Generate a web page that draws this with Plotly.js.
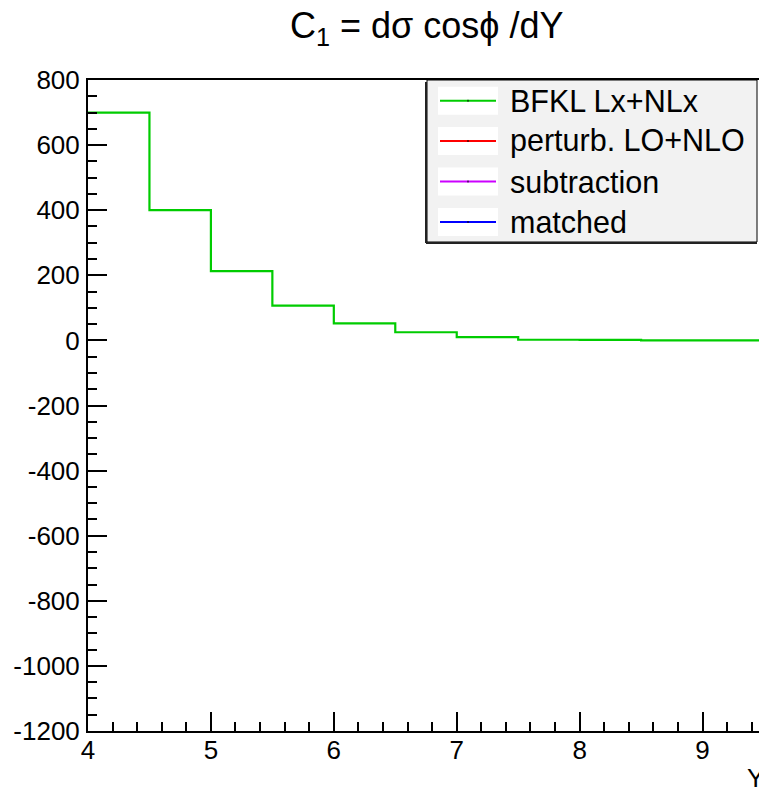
<!DOCTYPE html>
<html>
<head>
<meta charset="utf-8">
<script src="https://cdn.plot.ly/plotly-3.0.1.min.js"></script>
<style>
html,body{margin:0;padding:0;overflow:hidden;background:#fff;}
#chart{width:780px;height:789px;}
</style>
</head>
<body>
<div id="chart"></div>
<script>
// ---- data ----
const binEdges = [4, 4.5, 5, 5.5, 6, 6.5, 7, 7.5, 8, 8.5, 9, 9.5];
const bfklValues = [700, 400, 213, 107, 52.5, 25, 10, 2, 1.5, 0.3, 0.1];
const perturbValues = [];
const subtractionValues = [];
const matchedValues = [];
const seriesNames = ["BFKL Lx+NLx", "perturb. LO+NLO", "subtraction", "matched"];
const seriesColors = ["#00cc00", "#ff0000", "#cc00ff", "#0000ff"];
const xTickVals = [4, 5, 6, 7, 8, 9];
const yTickVals = [-1200, -1000, -800, -600, -400, -200, 0, 200, 400, 600, 800];

// ---- layout geometry ----
const W = 780, H = 789;
const M = {l: 88, r: 16, t: 80, b: 58};
const PW = W - M.l - M.r, PH = H - M.t - M.b;
const px = x => (x - M.l) / PW;
const py = y => (H - M.b - y) / PH;
const FONT = "Liberation Sans, Arial, Helvetica, sans-serif";

function stepTrace(vals, name, color) {
  const x = vals.length ? binEdges.slice(0, vals.length + 1) : [];
  const y = vals.length ? vals.concat([vals[vals.length - 1]]) : [];
  return {x: x, y: y, type: "scatter", mode: "lines", name: name,
          line: {color: color, width: 2.2, shape: "hv"}, showlegend: false, hoverinfo: "skip"};
}

const traces = [
  stepTrace(bfklValues, seriesNames[0], seriesColors[0]),
  stepTrace(perturbValues, seriesNames[1], seriesColors[1]),
  stepTrace(subtractionValues, seriesNames[2], seriesColors[2]),
  stepTrace(matchedValues, seriesNames[3], seriesColors[3])
];

// manual ROOT-style legend
const shapes = [];
const annotations = [];
const lx0 = 427, lx1 = 757, ly0 = 80, ly1 = 242;
shapes.push({type: "rect", xref: "paper", yref: "paper", x0: px(lx0), x1: px(lx1), y0: py(ly1), y1: py(ly0),
             fillcolor: "#f2f2f2", line: {color: "black", width: 1}, layer: "above"});
shapes.push({type: "line", xref: "paper", yref: "paper", x0: px(lx0 - 1), x1: px(lx0 - 1), y0: py(ly1 + 1), y1: py(ly0 + 2),
             line: {color: "#222", width: 2}, layer: "above"});
shapes.push({type: "line", xref: "paper", yref: "paper", x0: px(lx0 - 1), x1: px(lx1), y0: py(ly1 + 1), y1: py(ly1 + 1),
             line: {color: "#222", width: 2}, layer: "above"});
const rowY = [100.7, 141, 181.5, 222];
seriesNames.forEach((n, i) => {
  const yc = rowY[i];
  shapes.push({type: "rect", xref: "paper", yref: "paper", x0: px(438), x1: px(498), y0: py(yc + 14), y1: py(yc - 14),
               fillcolor: "white", line: {width: 0}, layer: "above"});
  shapes.push({type: "line", xref: "paper", yref: "paper", x0: px(440), x1: px(496), y0: py(yc), y1: py(yc),
               line: {color: seriesColors[i], width: 2}, layer: "above"});
  shapes.push({type: "rect", xref: "paper", yref: "paper", x0: px(467.5), x1: px(468.5), y0: py(yc + 1), y1: py(yc - 1),
               fillcolor: "black", line: {width: 0}, layer: "above"});
  annotations.push({text: n, xref: "paper", yref: "paper", x: px(508), y: py(yc), xanchor: "left", yanchor: "middle",
                    showarrow: false, font: {family: FONT, size: 30.5, color: "black"}});
});

// title
annotations.push({text: "C<sub>1</sub> = dσ cosϕ /dY", xref: "paper", yref: "paper", x: px(427), y: py(28),
                  xanchor: "center", yanchor: "middle", showarrow: false,
                  font: {family: FONT, size: 36, color: "black"}});
// x axis title
annotations.push({text: "Y", xref: "paper", yref: "paper", x: px(745), y: py(761),
                  xanchor: "left", yanchor: "top", showarrow: false,
                  font: {family: FONT, size: 26, color: "black"}});

const axisCommon = {
  showgrid: false, zeroline: false, showline: true, linecolor: "black", linewidth: 2, mirror: true,
  ticks: "inside", ticklen: 19, tickwidth: 2, tickcolor: "black",
  tickfont: {family: FONT, size: 26, color: "black"}
};

const layout = {
  width: W, height: H, margin: M, paper_bgcolor: "white", plot_bgcolor: "white",
  showlegend: false,
  xaxis: Object.assign({}, axisCommon, {range: [4, 9.5], tickvals: xTickVals, ticktext: xTickVals.map(String),
    minor: {dtick: 0.2, tick0: 4, ticks: "inside", ticklen: 9, tickwidth: 2, tickcolor: "black", showgrid: false},
    ticklabelstandoff: -5}),
  yaxis: Object.assign({}, axisCommon, {range: [-1200, 800], tickvals: yTickVals, ticktext: yTickVals.map(String),
    minor: {dtick: 50, tick0: 0, ticks: "inside", ticklen: 9, tickwidth: 2, tickcolor: "black", showgrid: false},
    ticklabelstandoff: 1}),
  shapes: shapes, annotations: annotations
};

Plotly.newPlot("chart", traces, layout, {staticPlot: true, displayModeBar: false});
</script>
</body>
</html>
